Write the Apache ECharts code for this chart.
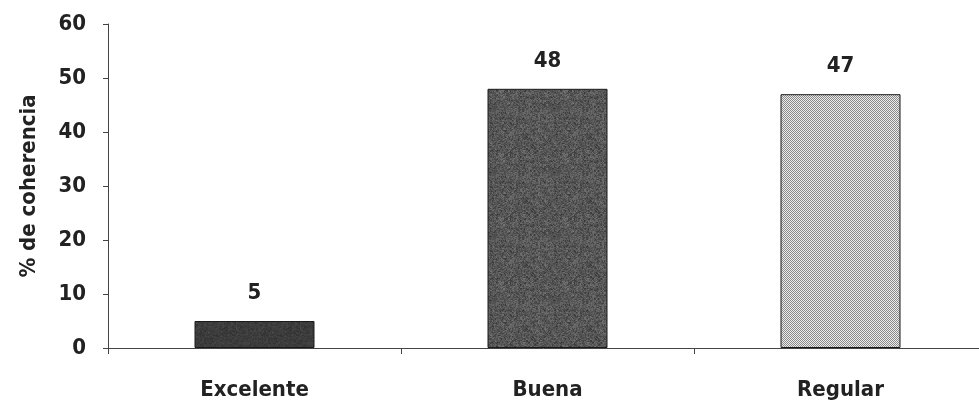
<!DOCTYPE html>
<html>
<head>
<meta charset="utf-8">
<script src="https://cdn.jsdelivr.net/npm/echarts@6/dist/echarts.min.js"></script>
<style>
  html, body { margin: 0; padding: 0; background: #ffffff; }
  #chart { width: 979px; height: 401px; }
</style>
</head>
<body>
<div id="chart"></div>
<script>
// Data
const categories = ['Excelente', 'Buena', 'Regular'];
const values = [5, 48, 47];
const yTicks = [0, 10, 20, 30, 40, 50, 60];
const yTitle = '% de coherencia';

const FONT = "'Liberation Sans Narrow', 'Arial Narrow', 'DejaVu Sans Condensed', sans-serif";

// Deterministic hash used for the mottled fill textures
function hash(x, y, s) {
  const v = Math.sin(x * 127.1 + y * 311.7 + s * 74.7) * 43758.5453;
  return v - Math.floor(v);
}

// Mottled grey tile: fine grain mixed with 2px clumps
function mottled(base, spread, seed) {
  const size = 64;
  const c = document.createElement('canvas');
  c.width = size; c.height = size;
  const ctx = c.getContext('2d');
  for (let y = 0; y < size; y++) {
    for (let x = 0; x < size; x++) {
      const n = 0.6 * hash(x, y, seed) + 0.4 * hash(Math.floor(x / 2), Math.floor(y / 2), seed + 1);
      const g = Math.round(base + (n - 0.5) * spread);
      ctx.fillStyle = 'rgb(' + g + ',' + g + ',' + g + ')';
      ctx.fillRect(x, y, 1, 1);
    }
  }
  return c;
}

// Fine 1px checker tile
function checker(dark, light) {
  const c = document.createElement('canvas');
  c.width = 2; c.height = 2;
  const ctx = c.getContext('2d');
  ctx.fillStyle = light; ctx.fillRect(0, 0, 2, 2);
  ctx.fillStyle = dark; ctx.fillRect(0, 0, 1, 1); ctx.fillRect(1, 1, 1, 1);
  return c;
}

const fills = [
  { image: mottled(60, 28, 3), repeat: 'repeat' },
  { image: mottled(86, 64, 7), repeat: 'repeat' },
  { image: checker('#8a8a8a', '#ececec'), repeat: 'repeat' }
];

const chart = echarts.init(document.getElementById('chart'), null, { renderer: 'canvas' });

chart.setOption({
  backgroundColor: '#ffffff',
  animation: false,
  grid: {
    left: 108, width: 879, top: 24, bottom: 53,
    containLabel: false,
    outerBoundsMode: 'none'
  },
  xAxis: {
    type: 'category',
    data: categories,
    axisLine: { lineStyle: { color: '#444444', width: 1 } },
    axisTick: { show: true, length: 6, lineStyle: { color: '#444444' } },
    axisLabel: {
      margin: 31,
      fontFamily: FONT, fontSize: 22, fontWeight: 'bold', color: '#222222'
    }
  },
  yAxis: {
    type: 'value',
    min: yTicks[0],
    max: yTicks[yTicks.length - 1],
    interval: yTicks[1] - yTicks[0],
    name: yTitle,
    nameLocation: 'middle',
    nameRotate: 90,
    nameGap: 68,
    nameTextStyle: { fontFamily: FONT, fontSize: 22, fontWeight: 'bold', color: '#222222' },
    splitLine: { show: false },
    axisLine: { show: true, lineStyle: { color: '#444444', width: 1 } },
    axisTick: { show: true, length: 5, lineStyle: { color: '#444444' } },
    axisLabel: {
      margin: 22,
      fontFamily: FONT, fontSize: 22, fontWeight: 'bold', color: '#222222'
    }
  },
  series: [{
    type: 'bar',
    barWidth: 120,
    data: values.map((v, i) => ({
      value: v,
      itemStyle: { color: fills[i], borderColor: '#1a1a1a', borderWidth: 1 }
    })),
    label: {
      show: true,
      position: 'top',
      distance: 17,
      fontFamily: FONT, fontSize: 22, fontWeight: 'bold', color: '#222222'
    }
  }]
});
</script>
</body>
</html>
